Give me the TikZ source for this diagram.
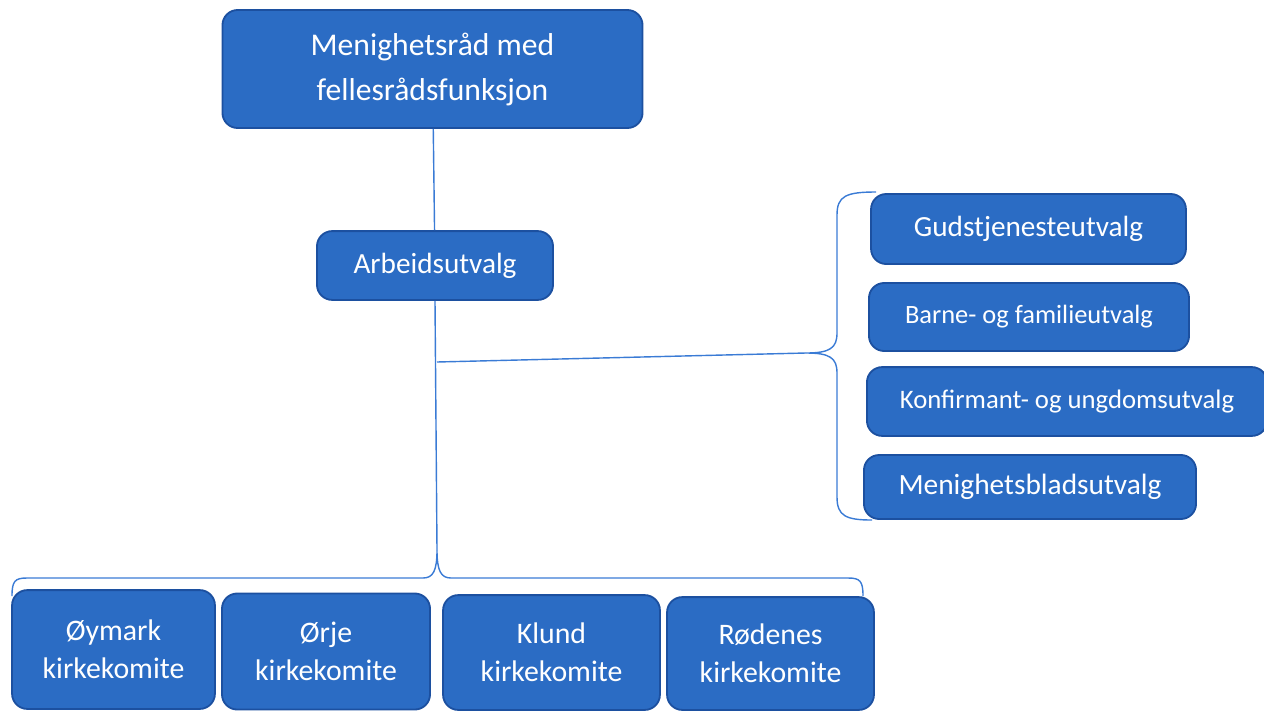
\documentclass[tikz,border=0pt]{standalone}
\usepackage{fontspec}
\setmainfont{Carlito}
\usepackage{xcolor}
\usepackage{tikz}
\usetikzlibrary{positioning}
\definecolor{boxblue}{RGB}{43,108,196}
\definecolor{boxedge}{RGB}{28,80,160}
\definecolor{linkblue}{RGB}{58,123,213}
\tikzstyle{block} = [rectangle, draw=boxedge, line width=1.3pt, fill=boxblue,
text=white, align=center, rounded corners=0.38cm, inner sep=2pt]
\tikzstyle{line} = [draw=linkblue, line width=1pt]

\begin{document}
\begin{tikzpicture}[x=0.025cm, y=-0.025cm]
    \useasboundingbox (0,0) rectangle (1264,712);
    % nodes
    \node [block, minimum width=10.5cm, minimum height=2.95cm, font=\fontsize{22.5}{32}\selectfont] (menrad) at (432.5,69) {Menighetsråd med\\fellesrådsfunksjon};
    \node [block, minimum width=5.9cm, minimum height=1.72cm, font=\fontsize{20.8}{24}\selectfont] (arbutv) at (435,265.5) {Arbeidsutvalg};
    \node [block, minimum width=7.87cm, minimum height=1.75cm, font=\fontsize{20.8}{24}\selectfont] (gudutv) at (1028.5,229) {Gudstjenesteutvalg};
    \node [block, minimum width=8cm, minimum height=1.7cm, font=\fontsize{18.8}{22}\selectfont] (barnutv) at (1029,317) {Barne- og familieutvalg};
    \node [block, minimum width=10cm, minimum height=1.72cm, font=\fontsize{19}{22}\selectfont] (konfutv) at (1067,401.5) {Konfirmant- og ungdomsutvalg};
    \node [block, minimum width=8.3cm, minimum height=1.6cm, font=\fontsize{20.9}{24}\selectfont] (bladutv) at (1030,487) {Menighetsbladsutvalg};
    \node [block, minimum width=5.07cm, minimum height=2.97cm, font=\fontsize{21.2}{27}\selectfont] (oymark) at (113.5,649.5) {Øymark\\kirkekomite};
    \node [block, minimum width=5.2cm, minimum height=2.9cm, font=\fontsize{21.2}{27}\selectfont] (orje) at (326,651.5) {Ørje\\kirkekomite};
    \node [block, minimum width=5.42cm, minimum height=2.87cm, font=\fontsize{21.2}{27}\selectfont] (klund) at (551.5,652.5) {Klund\\kirkekomite};
    \node [block, minimum width=5.17cm, minimum height=2.82cm, font=\fontsize{21.2}{27}\selectfont] (rodenes) at (770.5,653.5) {Rødenes\\kirkekomite};

    % braces
    \coordinate (tipbot) at (437,550);
    \coordinate (tipright) at (806,353);
    \coordinate (junc) at (437,362);
    \path [line] (12,596) .. controls (12,581) and (15,578) .. (27,578) -- (423,578)
        .. controls (433,578) and (437,571) .. (tipbot)
        .. controls (437,571) and (441,578) .. (451,578) -- (848,578)
        .. controls (860,578) and (863,581) .. (863,596);
    \path [line] (876,192) .. controls (846,192) and (837,196) .. (837,215) -- (837,333)
        .. controls (837,348) and (830,353) .. (tipright)
        .. controls (830,353) and (837,358) .. (837,373) -- (837,497)
        .. controls (837,516) and (846,520) .. (872,520);

    % edges
    \path [line] (menrad) -- (arbutv);
    \path [line] (arbutv.south) -- (tipbot);
    \path [line] (junc) -- (tipright);
\end{tikzpicture}
\end{document}
